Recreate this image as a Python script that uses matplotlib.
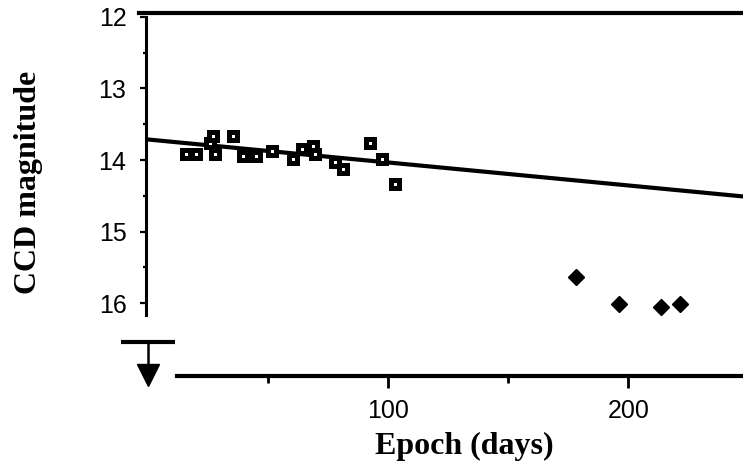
import matplotlib
matplotlib.use('Agg')
import matplotlib.pyplot as plt
from matplotlib.ticker import FixedLocator
from matplotlib.transforms import offset_copy

# CCD photometry, open squares (early epochs)
sq_epoch = [15.8, 20.0, 25.8, 27.1, 27.9, 35.4, 39.6, 45.0, 51.7,
            60.4, 64.2, 68.8, 69.6, 77.9, 81.3, 92.5, 97.5, 102.9]
sq_mag = [13.91, 13.91, 13.76, 13.67, 13.91, 13.67, 13.95, 13.95, 13.88,
          13.99, 13.84, 13.81, 13.91, 14.03, 14.13, 13.76, 13.98, 14.33]

# late epochs, filled diamonds
dm_epoch = [178.3, 196.3, 213.8, 221.7]
dm_mag = [15.64, 16.01, 16.05, 16.01]

# linear fit through the early points
fit_epoch = [-1, 248]
fit_mag = [13.71, 14.51]

# upper limit at epoch 0
lim_epoch = [0]
lim_mag = [16.55]

fig = plt.figure(figsize=(7.43, 4.73), dpi=100)
ax = fig.add_axes([0.1669, 0.2051, 0.8331, 0.7666])

ax.set_xlim(-10, 247.8)
ax.set_ylim(17.02, 11.95)

ax.plot(fit_epoch, fit_mag, color='k', lw=3, solid_capstyle='butt', zorder=2)
ax.plot(sq_epoch, sq_mag, ls='none', marker='s', ms=5.6, mew=3.6,
        mfc='white', mec='k', zorder=3)
ax.plot(dm_epoch, dm_mag, ls='none', marker='D', ms=8.3, mew=1,
        mfc='k', mec='k', zorder=3)

# upper limit symbol: bar, stem and arrow head
ax.plot(lim_epoch, lim_mag, ls='none', marker='_', ms=39, mew=3,
        color='k', clip_on=False)
stem_tr = offset_copy(ax.transData, fig=fig, y=-10, units='points')
ax.plot(lim_epoch, lim_mag, ls='none', marker='|', ms=20, mew=1.8,
        color='k', clip_on=False, transform=stem_tr)
head_tr = offset_copy(ax.transData, fig=fig, y=-23.4, units='points')
ax.plot(lim_epoch, lim_mag, ls='none', marker='v', ms=16, mew=1,
        color='k', clip_on=False, transform=head_tr)

# spines
ax.spines['right'].set_visible(False)
ax.spines['left'].set_position(('data', -1))
ax.spines['left'].set_bounds(12, 16.17)
ax.spines['left'].set_linewidth(2.2)
ax.spines['top'].set_bounds(-3.7, 247.8)
ax.spines['top'].set_linewidth(3)
ax.spines['bottom'].set_bounds(12, 247.8)
ax.spines['bottom'].set_linewidth(3)

ax.yaxis.set_major_locator(FixedLocator([12, 13, 14, 15, 16]))
ax.yaxis.set_minor_locator(FixedLocator([12.5, 13.5, 14.5, 15.5]))
ax.xaxis.set_major_locator(FixedLocator([100, 200]))
ax.xaxis.set_minor_locator(FixedLocator([50, 150]))

ax.tick_params(axis='y', which='major', direction='out', length=4.3, width=1.6,
               pad=9.5, labelsize=18)
ax.tick_params(axis='y', which='minor', direction='out', length=2.2, width=1.6)
ax.tick_params(axis='x', which='major', direction='out', length=8.6, width=2,
               pad=8, labelsize=18)
ax.tick_params(axis='x', which='minor', direction='out', length=5, width=2)
ax.tick_params(top=False, right=False, which='both')
for lab in ax.get_xticklabels() + ax.get_yticklabels():
    lab.set_family('Liberation Sans')

ax.set_ylabel('CCD magnitude', family='Liberation Serif', weight='bold',
              fontsize=23, va='center')
ax.yaxis.set_label_coords(-0.1535, 0.5345)
ax.set_xlabel('Epoch (days)', family='Liberation Serif', weight='bold',
              fontsize=23, va='center')
ax.xaxis.set_label_coords(0.549, -0.193)

fig.savefig('out.png', dpi=100)
